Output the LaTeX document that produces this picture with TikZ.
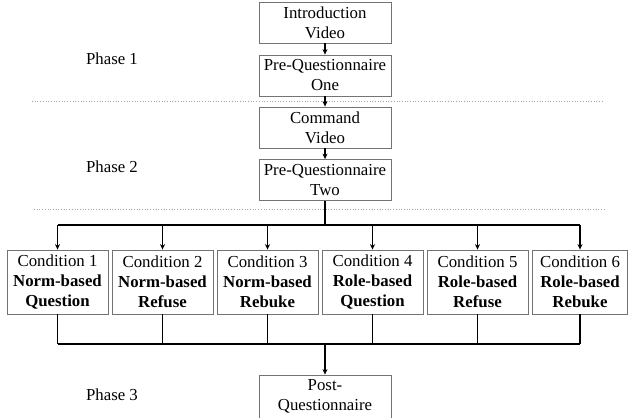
\documentclass[tikz,border=0pt]{standalone}
\usepackage{fontspec}
\setmainfont{Liberation Serif}
\usetikzlibrary{arrows.meta}

\tikzset{
  box/.style={draw=black!55, line width=0.8pt, align=center, inner sep=0pt,
    minimum width=132pt, minimum height=41pt},
  condbox/.style={box, minimum width=101pt, minimum height=64pt},
  conn/.style={line width=1.6pt},
  arr/.style={conn, -{Stealth[length=5.5pt,width=5pt]}},
  sep/.style={draw=black!35, line width=0.7pt, dotted}
}

\begin{document}
\begin{tikzpicture}[x=1pt, y=-1pt, font=\fontsize{16.8}{20}\selectfont]
            \useasboundingbox (0,0) rectangle (628,417);
            % top column
            \node[box] (intro) at (325, 22.5) {Introduction\\Video};
            \node[box] (preq1) at (325, 75.5) {Pre-Questionnaire\\One};
            \node[box] (cmd) at (325, 127.5) {Command\\Video};
            \node[box] (preq2) at (325, 180) {Pre-Questionnaire\\Two};
            \node (phase1) at (112, 59) {Phase 1};
            \node (phase2) at (112, 167) {Phase 2};
            \node (phase3) at (112, 395) {Phase 3};
            \coordinate (sepa1) at (32, 101);
            \coordinate (sepa2) at (604, 101);
            \coordinate (sepb1) at (34, 209);
            \coordinate (sepb2) at (606, 209);
            \draw[sep] (sepa1) -- (sepa2);
            \draw[sep] (sepb1) -- (sepb2);
            \draw[arr] (intro) -- (preq1);
            \draw[arr] (preq1) -- (cmd);
            \draw[arr] (cmd) -- (preq2);
            % conditions
            \node[condbox] (c1) at (57.5, 282) {Condition 1\\\textbf{Norm-based}\\\textbf{Question}};
            \node[condbox] (c2) at (162.5, 282) {Condition 2\\\textbf{Norm-based}\\\textbf{Refuse}};
            \node[condbox] (c3) at (267.5, 282) {Condition 3\\\textbf{Norm-based}\\\textbf{Rebuke}};
            \node[condbox] (c4) at (372.5, 282) {Condition 4\\\textbf{Role-based}\\\textbf{Question}};
            \node[condbox] (c5) at (477.5, 282) {Condition 5\\\textbf{Role-based}\\\textbf{Refuse}};
            \node[condbox, minimum width=95pt] (c6) at (580, 282) {Condition 6\\\textbf{Role-based}\\\textbf{Rebuke}};
            % last box runs past the lower edge
            \node[box, minimum height=48pt, text depth=9pt] (post) at (325, 399) {Post-\\Questionnaire};
            \coordinate (split) at (325, 225);
            \coordinate (join) at (325, 344);
            \draw[conn] (preq2) -- (split);
            \draw[conn] (c1.north |- split) -- (c6.north |- split);
            \draw[conn] (c1.south |- join) -- (c6.south |- join);
            \foreach \i in {1,...,6} {
                \draw[arr] (c\i.north |- split) -- (c\i.north);
                \draw[conn] (c\i.south) -- (c\i.south |- join);
            }
            \draw[arr] (join) -- (post);
        \end{tikzpicture}
\end{document}
